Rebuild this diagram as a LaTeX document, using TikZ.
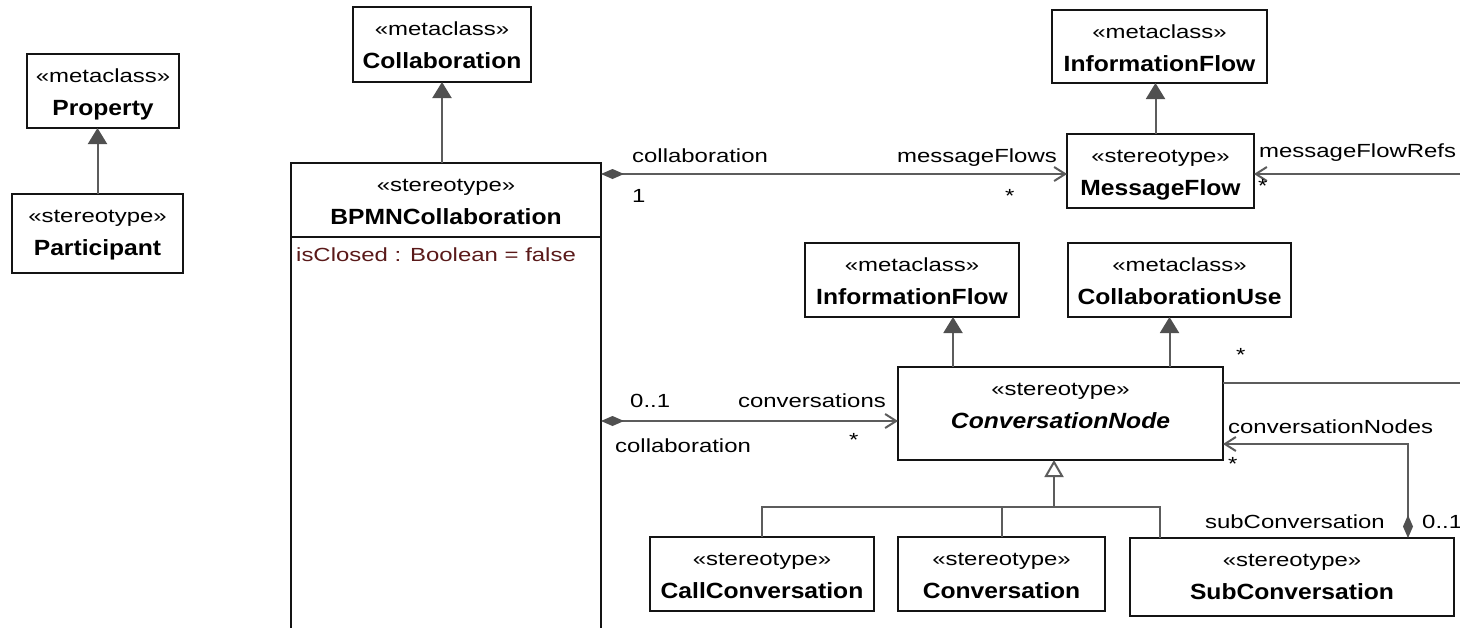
\documentclass[tikz,border=0pt]{standalone}
\usepackage{fontspec}
\setmainfont{Liberation Sans}[FakeStretch=1.26]
\newfontfamily\namefont{Liberation Sans}[FakeStretch=1.12]
\usetikzlibrary{arrows.meta,fit,calc}
\definecolor{linegray}{RGB}{92,92,92}
\definecolor{tipgray}{RGB}{80,80,80}
\definecolor{boxblack}{RGB}{20,20,20}
\definecolor{attrred}{RGB}{90,25,25}
\tikzset{
 classbox/.style={draw=boxblack, line width=2pt, fill=white, inner sep=0pt, outer sep=0pt},
 stereo/.style={anchor=base, inner sep=0pt, font=\fontsize{19}{21}\selectfont},
 cname/.style={anchor=base, inner sep=0pt, font=\namefont\bfseries\fontsize{22}{24}\selectfont},
 lbl/.style={inner sep=0pt, font=\fontsize{19}{21}\selectfont},
 conn/.style={draw=linegray, line width=2pt},
 ext/.style={conn, -{Triangle[length=16pt,width=19pt,fill=tipgray,color=tipgray]}},
 gen/.style={conn, -{Triangle[open,length=17pt,width=19pt,fill=white]}},
 nav/.style={conn, -{Straight Barb[length=11pt,width=14pt]}},
 compnav/.style={conn, {Diamond[length=23pt,width=10pt,fill=tipgray,color=tipgray]}-{Straight Barb[length=11pt,width=14pt]}},
}
\newcommand\umlclass[7]{%
  \node[classbox, fit={(#2,#3) (#4,#5)}] (#1) {};
  \node[stereo] (#1-st) at ([yshift=-28pt]#1.north) {«#6»};
  \node[cname] (#1-nm) at ([yshift=-61pt]#1.north) {#7};
}
\begin{document}
\begin{tikzpicture}[x=1pt,y=-1pt]
\useasboundingbox (0,0) rectangle (1460,627);
\clip (0,0) rectangle (1460,627);
\fill[white] (0,0) rectangle (1460,627);

% classes
\umlclass{prop}{27}{54}{179}{128}{metaclass}{Property}
\umlclass{part}{12}{194}{183}{273}{stereotype}{Participant}
\umlclass{collab}{353}{7}{531}{82}{metaclass}{Collaboration}
\umlclass{bpmn}{291}{163}{601}{660}{stereotype}{BPMNCollaboration}
\umlclass{infoflow1}{1052}{10}{1267}{83}{metaclass}{InformationFlow}
\umlclass{msgflow}{1067}{134}{1254}{208}{stereotype}{MessageFlow}
\umlclass{infoflow2}{805}{243}{1019}{317}{metaclass}{InformationFlow}
\umlclass{collabuse}{1068}{243}{1291}{317}{metaclass}{CollaborationUse}
\umlclass{convnode}{898}{367}{1223}{460}{stereotype}{\itshape ConversationNode}
\umlclass{callconv}{650}{537}{874}{611}{stereotype}{CallConversation}
\umlclass{conv}{898}{537}{1105}{611}{stereotype}{Conversation}
\umlclass{subconv}{1130}{538}{1454}{616}{stereotype}{SubConversation}

% attribute compartment
\draw[draw=boxblack, line width=2pt] ([yshift=-74pt]bpmn.north west) -- ([yshift=-74pt]bpmn.north east);
\node[lbl, anchor=base west, text=attrred] (attr) at (296,261) {isClosed : Boolean = false};

% extensions
\draw[ext] (part.north) -- (part.north |- prop.south);
\draw[ext] (collab.south |- bpmn.north) -- (collab.south);
\coordinate (mfup) at ([xshift=-5pt]msgflow.north);
\draw[ext] (mfup) -- (mfup |- infoflow1.south);
\coordinate (cnup1) at ([xshift=41pt]infoflow2.south);
\draw[ext] (cnup1 |- convnode.north) -- (cnup1);
\coordinate (cnup2) at ([xshift=-10pt]collabuse.south);
\draw[ext] (cnup2 |- convnode.north) -- (cnup2);

% generalization
\coordinate (gx) at ([xshift=-6.5pt]convnode.south);
\coordinate (gj) at ($(gx |- callconv.north)+(0,-30)$);
\coordinate (subtop) at ([xshift=30pt]subconv.north west);
\draw[conn] (callconv.north) |- (gj) -| (subtop);
\draw[conn] (conv.north) -- (conv.north |- gj);
\draw[gen] (gj) -- (gx);

% associations
\coordinate (mfin) at ([yshift=-3pt]msgflow.west);
\draw[compnav] (bpmn.east |- mfin) -- (mfin);
\coordinate (mfr) at (1460,174);
\draw[nav] (mfr) -- (msgflow.east |- mfr);
\coordinate (cnin) at ([yshift=-7.5pt]convnode.west);
\draw[compnav] (bpmn.east |- cnin) -- (cnin);
\coordinate (cnr) at (1460,383);
\draw[conn] (convnode.east |- cnr) -- (cnr);
\coordinate (scup) at ([xshift=278pt]subconv.north west);
\coordinate (cnsub) at ([yshift=16pt]convnode.south east);
\draw[compnav] (scup) |- (cnsub);

% labels
\node[lbl, anchor=base west] (l-collab1) at (632,162) {collaboration};
\node[lbl, anchor=base west] (l-one) at (632,202) {1};
\node[lbl, anchor=base east] (l-mflows) at (1057,162) {messageFlows};
\node[lbl, anchor=base west] (l-star1) at (1005,202) {*};
\node[lbl, anchor=base west] (l-mfrefs) at (1259,157) {messageFlowRefs};
\node[lbl, anchor=base west] (l-star2) at (1258,192) {*};
\node[lbl, anchor=base west] (l-01a) at (630,407) {0..1};
\node[lbl, anchor=base east] (l-convs) at (886,407) {conversations};
\node[lbl, anchor=base west] (l-collab2) at (615,452) {collaboration};
\node[lbl, anchor=base west] (l-star3) at (849,446) {*};
\node[lbl, anchor=base west] (l-star4) at (1236,361) {*};
\node[lbl, anchor=base west] (l-cnodes) at (1228,433) {conversationNodes};
\node[lbl, anchor=base west] (l-star5) at (1228,470) {*};
\node[lbl, anchor=base east] (l-subconv) at (1385,528) {subConversation};
\node[lbl, anchor=base west] (l-01b) at (1422,528) {0..1};
\end{tikzpicture}
\end{document}
